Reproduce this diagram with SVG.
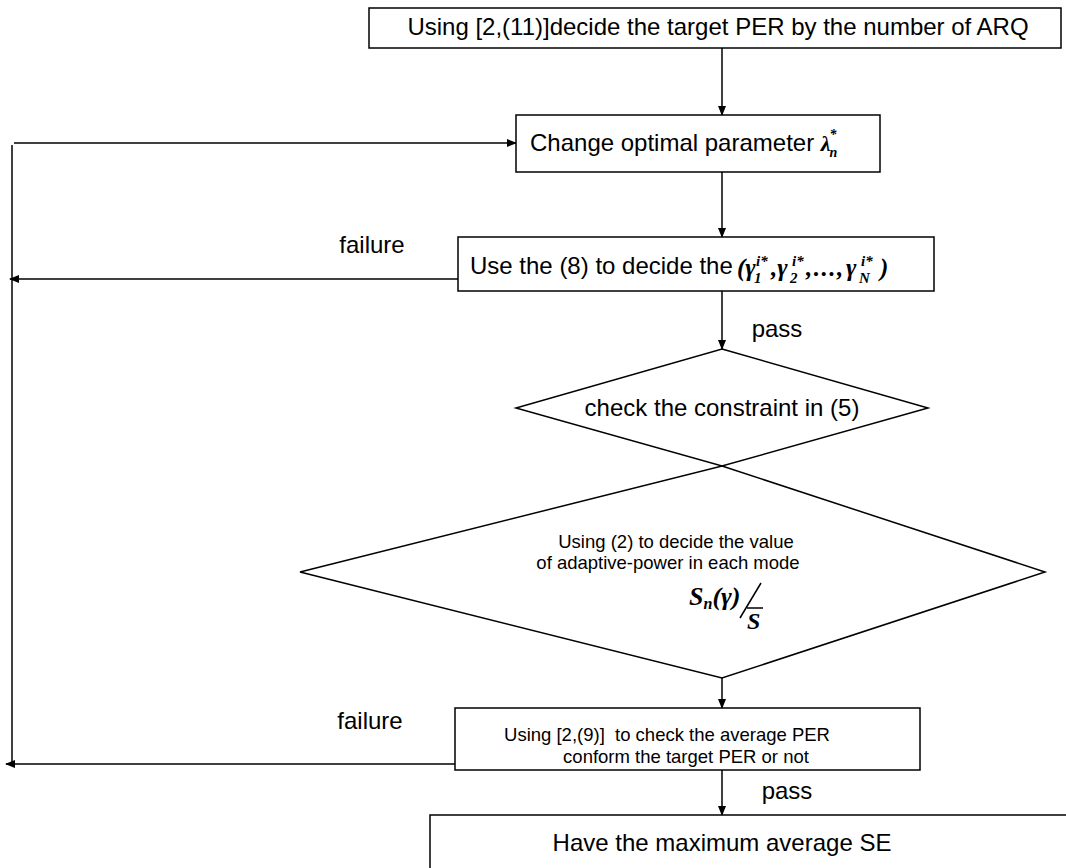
<svg xmlns="http://www.w3.org/2000/svg" width="1066" height="868" viewBox="0 0 1066 868">
<style>
.b{fill:#fff;stroke:#000;stroke-width:1.5}
.t{font-family:"Liberation Sans",Arial,sans-serif;font-size:24px;fill:#000}
.s{font-family:"Liberation Sans",Arial,sans-serif;font-size:18.5px;fill:#000}
.m{font-family:"Liberation Serif","Times New Roman",serif;font-style:italic;font-weight:bold;fill:#000}
.c{fill:none;stroke:#000;stroke-width:1.5}
</style>
<defs>
<marker id="ah" markerWidth="10" markerHeight="10" refX="9" refY="5" orient="auto" markerUnits="userSpaceOnUse">
<path d="M0,1 L10,5 L0,9 Z" fill="#000"/>
</marker>
</defs>
<rect width="1066" height="868" fill="#fff"/>
<g id="connectors">
<line class="c" x1="722" y1="48" x2="722" y2="115" marker-end="url(#ah)"/>
<line class="c" x1="722" y1="172" x2="722" y2="237" marker-end="url(#ah)"/>
<line class="c" x1="722" y1="291" x2="722" y2="349" marker-end="url(#ah)"/>
<line class="c" x1="722" y1="678" x2="722" y2="708" marker-end="url(#ah)"/>
<line class="c" x1="722" y1="770" x2="722" y2="815" marker-end="url(#ah)"/>
<line class="c" x1="12" y1="145" x2="12" y2="766"/>
<line class="c" x1="14" y1="143" x2="516" y2="143" marker-end="url(#ah)"/>
<line class="c" x1="458" y1="279" x2="10" y2="279" marker-end="url(#ah)"/>
<line class="c" x1="455" y1="764" x2="6" y2="764" marker-end="url(#ah)"/>
<text class="t" x="372" y="253" text-anchor="middle">failure</text>
<text class="t" x="370" y="729" text-anchor="middle">failure</text>
<text class="t" x="777" y="337" text-anchor="middle">pass</text>
<text class="t" x="787" y="799" text-anchor="middle">pass</text>
</g>
<g id="n1">
<rect class="b" x="369" y="8" width="692" height="40"/>
<text class="t" x="718" y="35" font-size="25" text-anchor="middle">Using [2,(11)]decide the target PER by the number of ARQ</text>
</g>
<g id="n2">
<rect class="b" x="516" y="115" width="364" height="57"/>
<text class="t" x="530" y="151" font-size="22.5">Change optimal parameter <tspan class="m" font-size="22">λ</tspan><tspan class="m" font-size="14" dx="-1" dy="-12">*</tspan><tspan class="m" font-size="14" dx="-7" dy="18">n</tspan></text>
</g>
<g id="n3">
<rect class="b" x="458" y="237" width="476" height="54"/>
<text class="t" x="470" y="274">Use the (8) to decide the</text>
<text class="m" font-size="25" y="276"><tspan x="737">(γ</tspan><tspan x="756" y="266" font-size="15">i*</tspan><tspan x="754" y="283" font-size="15">1</tspan><tspan x="771" y="276">,γ</tspan><tspan x="792" y="266" font-size="15">i*</tspan><tspan x="790" y="283" font-size="15">2</tspan><tspan x="806" y="276" letter-spacing="1.5">,...,</tspan><tspan x="846" y="276">γ</tspan><tspan x="861" y="266" font-size="15">i*</tspan><tspan x="859" y="283" font-size="15">N</tspan><tspan x="880" y="276">)</tspan></text>
</g>
<g id="n4">
<polygon class="b" points="722,349 928,408 722,466 516,408"/>
<text class="t" x="722" y="416" text-anchor="middle">check the constraint in (5)</text>
</g>
<g id="n5">
<polygon class="b" points="722,466 1045,572 722,678 300,572"/>
<text class="s" x="676" y="548" text-anchor="middle">Using (2) to decide the value</text>
<text class="s" x="668" y="569" text-anchor="middle">of adaptive-power in each mode</text>
<text class="m" font-size="26" x="689" y="605">S<tspan font-size="16" dy="4">n</tspan><tspan dy="-4">(γ)</tspan></text>
<line class="c" x1="740" y1="618" x2="761" y2="583"/>
<text class="m" font-size="24" x="747" y="629">S</text>
<line class="c" x1="747" y1="608" x2="763" y2="608"/>
</g>
<g id="n6">
<rect class="b" x="455" y="708" width="465" height="62"/>
<text class="s" x="667" y="741" text-anchor="middle" xml:space="preserve">Using [2,(9)]  to check the average PER</text>
<text class="s" x="686" y="763" text-anchor="middle">conform the target PER or not</text>
</g>
<g id="n7">
<rect class="b" x="430" y="815" width="660" height="70"/>
<text class="t" x="722" y="851" text-anchor="middle">Have the maximum average SE</text>
</g>
</svg>
